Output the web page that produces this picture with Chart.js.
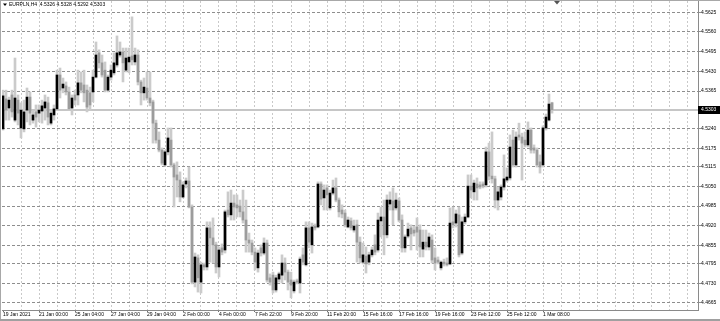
<!DOCTYPE html>
<html>
<head>
<meta charset="utf-8">
<script src="https://cdn.jsdelivr.net/npm/chart.js@4.4.1/dist/chart.umd.min.js"></script>
<style>
  html, body { margin: 0; padding: 0; background: #fff; }
  #wrap { width: 720px; height: 321px; }
</style>
</head>
<body>
<div id="wrap"><canvas id="chart" width="720" height="321"></canvas></div>
<script>
const symbol = 'EURPLN,H4'

const timeLabels = ['19 Jan 2021', '21 Jan 00:00', '25 Jan 04:00', '27 Jan 04:00', '29 Jan 04:00', '2 Feb 00:00',
  '4 Feb 00:00', '7 Feb 22:00', '9 Feb 20:00', '11 Feb 20:00', '15 Feb 16:00', '17 Feb 16:00', '19 Feb 16:00',
  '23 Feb 12:00', '25 Feb 12:00', '1 Mar 08:00']

const priceLabels = ['4.5625', '4.5560', '4.5495', '4.5430', '4.5365', '4.5305', '4.5240', '4.5175', '4.5115',
  '4.5050', '4.4985', '4.4920', '4.4855', '4.4795', '4.4730', '4.4665']

const open = [
  4.5240, 4.5339, 4.5309, 4.5352, 4.5269, 4.5335, 4.5243, 4.5240, 4.5302, 4.5345,
  4.5269, 4.5296, 4.5292, 4.5299, 4.5309, 4.5326, 4.5259, 4.5286, 4.5306, 4.5418,
  4.5375, 4.5382, 4.5362, 4.5309, 4.5352, 4.5352, 4.5392, 4.5385, 4.5368, 4.5359,
  4.5362, 4.5411, 4.5491, 4.5458, 4.5434, 4.5368, 4.5411, 4.5425, 4.5451, 4.5484,
  4.5494, 4.5434, 4.5461, 4.5481, 4.5461, 4.5484, 4.5395, 4.5359, 4.5375, 4.5342,
  4.5329, 4.5259, 4.5203, 4.5170, 4.5121, 4.5164, 4.5203, 4.5121, 4.5088, 4.5071,
  4.5015, 4.5058, 4.5068, 4.4982, 4.4734, 4.4814, 4.4734, 4.4791, 4.4784, 4.4913,
  4.4880, 4.4857, 4.4784, 4.4847, 4.4840, 4.4972, 4.4956, 4.4995, 4.4989, 4.4985,
  4.4966, 4.4939, 4.4873, 4.4863, 4.4833, 4.4781, 4.4847, 4.4830, 4.4863, 4.4748,
  4.4757, 4.4708, 4.4744, 4.4757, 4.4797, 4.4767, 4.4741, 4.4705, 4.4738, 4.4731,
  4.4824, 4.4791, 4.4913, 4.4857, 4.4919, 4.4916, 4.5058, 4.5012, 4.5045, 4.4979,
  4.5028, 4.5045, 4.5005, 4.4972, 4.4962, 4.4916, 4.4936, 4.4906, 4.4923, 4.4866,
  4.4800, 4.4820, 4.4800, 4.4824, 4.4857, 4.4840, 4.4936, 4.4949, 4.4890, 4.4992,
  4.5002, 4.4979, 4.5002, 4.4939, 4.4847, 4.4886, 4.4913, 4.4906, 4.4916, 4.4906,
  4.4843, 4.4866, 4.4850, 4.4873, 4.4814, 4.4807, 4.4781, 4.4800, 4.4797, 4.4794,
  4.4933, 4.4929, 4.4956, 4.4830, 4.4933, 4.4949, 4.5051, 4.5032, 4.5058, 4.5055,
  4.5058, 4.5055, 4.5164, 4.5084, 4.5075, 4.5005, 4.5015, 4.5048, 4.5071, 4.5078,
  4.5203, 4.5121, 4.5220, 4.5213, 4.5203, 4.5187, 4.5236, 4.5177, 4.5170, 4.5131,
  4.5121, 4.5243, 4.5269, 4.5326
]
const high = [
  4.5368, 4.5368, 4.5345, 4.5368, 4.5474, 4.5352, 4.5326, 4.5335, 4.5375, 4.5362,
  4.5302, 4.5319, 4.5319, 4.5335, 4.5352, 4.5345, 4.5302, 4.5319, 4.5434, 4.5441,
  4.5408, 4.5395, 4.5378, 4.5352, 4.5368, 4.5434, 4.5428, 4.5434, 4.5385, 4.5378,
  4.5434, 4.5527, 4.5501, 4.5484, 4.5461, 4.5418, 4.5451, 4.5491, 4.5547, 4.5527,
  4.5507, 4.5507, 4.5507, 4.5610, 4.5507, 4.5501, 4.5401, 4.5408, 4.5428, 4.5428,
  4.5335, 4.5269, 4.5230, 4.5177, 4.5170, 4.5243, 4.5243, 4.5127, 4.5131, 4.5098,
  4.5065, 4.5078, 4.5114, 4.4989, 4.4830, 4.4824, 4.4800, 4.4797, 4.4933, 4.4933,
  4.4946, 4.4866, 4.4850, 4.4860, 4.4972, 4.5032, 4.5038, 4.5022, 4.5022, 4.5005,
  4.5038, 4.5005, 4.4896, 4.4873, 4.4847, 4.4840, 4.4857, 4.4880, 4.4873, 4.4761,
  4.4767, 4.4757, 4.4767, 4.4824, 4.4814, 4.4774, 4.4767, 4.4741, 4.4744, 4.4817,
  4.4847, 4.4933, 4.4933, 4.4929, 4.4926, 4.5065, 4.5065, 4.5055, 4.5055, 4.5038,
  4.5071, 4.5078, 4.5012, 4.4989, 4.4972, 4.4949, 4.4946, 4.4939, 4.4939, 4.4883,
  4.4863, 4.4850, 4.4833, 4.4850, 4.4890, 4.4962, 4.4982, 4.5005, 4.5022, 4.5032,
  4.5045, 4.5028, 4.5012, 4.4956, 4.4890, 4.4929, 4.4923, 4.4919, 4.4946, 4.4923,
  4.4906, 4.4906, 4.4896, 4.4890, 4.4847, 4.4817, 4.4804, 4.4810, 4.4814, 4.4979,
  4.4982, 4.4972, 4.4982, 4.4949, 4.4959, 4.5088, 4.5088, 4.5071, 4.5078, 4.5065,
  4.5065, 4.5180, 4.5193, 4.5230, 4.5084, 4.5048, 4.5055, 4.5154, 4.5111, 4.5220,
  4.5236, 4.5230, 4.5259, 4.5226, 4.5230, 4.5263, 4.5243, 4.5187, 4.5177, 4.5154,
  4.5250, 4.5289, 4.5355, 4.5328
]
const low = [
  4.5236, 4.5269, 4.5269, 4.5279, 4.5263, 4.5253, 4.5210, 4.5230, 4.5263, 4.5253,
  4.5259, 4.5246, 4.5263, 4.5259, 4.5269, 4.5253, 4.5253, 4.5269, 4.5302, 4.5342,
  4.5359, 4.5352, 4.5302, 4.5286, 4.5319, 4.5319, 4.5359, 4.5329, 4.5296, 4.5302,
  4.5329, 4.5408, 4.5441, 4.5411, 4.5362, 4.5362, 4.5401, 4.5418, 4.5444, 4.5477,
  4.5395, 4.5428, 4.5425, 4.5451, 4.5451, 4.5385, 4.5319, 4.5335, 4.5335, 4.5316,
  4.5193, 4.5193, 4.5164, 4.5121, 4.5117, 4.5154, 4.5114, 4.4982, 4.5015, 4.4999,
  4.5012, 4.5045, 4.4979, 4.4728, 4.4718, 4.4701, 4.4698, 4.4774, 4.4774, 4.4800,
  4.4797, 4.4764, 4.4751, 4.4824, 4.4830, 4.4949, 4.4939, 4.4939, 4.4949, 4.4949,
  4.4929, 4.4833, 4.4833, 4.4824, 4.4774, 4.4767, 4.4820, 4.4824, 4.4734, 4.4724,
  4.4698, 4.4701, 4.4734, 4.4731, 4.4741, 4.4708, 4.4682, 4.4698, 4.4728, 4.4698,
  4.4791, 4.4787, 4.4847, 4.4830, 4.4906, 4.4913, 4.4989, 4.4972, 4.4972, 4.4972,
  4.5022, 4.4999, 4.4949, 4.4946, 4.4916, 4.4913, 4.4906, 4.4899, 4.4800, 4.4797,
  4.4794, 4.4764, 4.4791, 4.4817, 4.4824, 4.4833, 4.4883, 4.4824, 4.4880, 4.4972,
  4.4923, 4.4972, 4.4933, 4.4833, 4.4833, 4.4880, 4.4840, 4.4886, 4.4840, 4.4817,
  4.4817, 4.4840, 4.4840, 4.4797, 4.4774, 4.4794, 4.4774, 4.4787, 4.4787, 4.4791,
  4.4913, 4.4916, 4.4817, 4.4824, 4.4926, 4.4946, 4.5012, 4.5005, 4.5005, 4.5042,
  4.5045, 4.5048, 4.5071, 4.5061, 4.4979, 4.4972, 4.5005, 4.5038, 4.5065, 4.5071,
  4.5114, 4.5114, 4.5203, 4.5071, 4.5180, 4.5180, 4.5160, 4.5160, 4.5114, 4.5094,
  4.5114, 4.5236, 4.5266, 4.5292
]
const close = [
  4.5349, 4.5302, 4.5335, 4.5296, 4.5342, 4.5292, 4.5302, 4.5296, 4.5345, 4.5292,
  4.5286, 4.5279, 4.5302, 4.5316, 4.5329, 4.5279, 4.5292, 4.5306, 4.5418, 4.5368,
  4.5388, 4.5362, 4.5306, 4.5342, 4.5335, 4.5392, 4.5368, 4.5359, 4.5312, 4.5319,
  4.5411, 4.5484, 4.5458, 4.5418, 4.5368, 4.5411, 4.5434, 4.5458, 4.5491, 4.5494,
  4.5458, 4.5474, 4.5477, 4.5468, 4.5484, 4.5395, 4.5359, 4.5378, 4.5342, 4.5326,
  4.5259, 4.5203, 4.5170, 4.5127, 4.5164, 4.5210, 4.5121, 4.5081, 4.5071, 4.5015,
  4.5055, 4.5068, 4.4982, 4.4734, 4.4817, 4.4748, 4.4791, 4.4784, 4.4913, 4.4880,
  4.4857, 4.4784, 4.4840, 4.4833, 4.4966, 4.4956, 4.4995, 4.4982, 4.4979, 4.4966,
  4.4939, 4.4873, 4.4863, 4.4833, 4.4800, 4.4830, 4.4830, 4.4863, 4.4741, 4.4734,
  4.4708, 4.4748, 4.4761, 4.4797, 4.4767, 4.4734, 4.4724, 4.4734, 4.4734, 4.4810,
  4.4800, 4.4913, 4.4866, 4.4916, 4.4913, 4.5058, 4.5008, 4.5038, 4.5022, 4.5028,
  4.5045, 4.5005, 4.4966, 4.4959, 4.4923, 4.4939, 4.4913, 4.4919, 4.4866, 4.4814,
  4.4824, 4.4794, 4.4824, 4.4840, 4.4833, 4.4939, 4.4949, 4.4890, 4.5005, 4.5005,
  4.4972, 4.5005, 4.4939, 4.4847, 4.4883, 4.4909, 4.4893, 4.4896, 4.4899, 4.4850,
  4.4866, 4.4850, 4.4883, 4.4807, 4.4797, 4.4800, 4.4800, 4.4794, 4.4791, 4.4929,
  4.4923, 4.4959, 4.4824, 4.4933, 4.4949, 4.5051, 4.5038, 4.5061, 4.5045, 4.5048,
  4.5051, 4.5164, 4.5084, 4.5075, 4.5005, 4.5032, 4.5048, 4.5075, 4.5081, 4.5180,
  4.5121, 4.5213, 4.5213, 4.5193, 4.5187, 4.5236, 4.5170, 4.5170, 4.5121, 4.5114,
  4.5243, 4.5279, 4.5322, 4.5303
]

const fontFamily = "Tahoma, 'Liberation Sans', Arial, sans-serif"
const last = close.length - 1

const wicks = low.map((l, i) => ({x: i, y: [l, high[i]]}))
const bodies = open.map((o, i) => ({x: i, y: [o, close[i]]}))
const bodyColors = open.map((o, i) => close[i] >= o ? '#000000' : '#9c9c9c')

const mt4Frame = {
  id: 'mt4Frame',
  beforeDatasetsDraw(chart) {
    const {ctx, chartArea} = chart
    const y = Math.round(chart.scales.y.getPixelForValue(close[last]))
    ctx.save()
    ctx.fillStyle = '#c6c6c6'
    ctx.fillRect(chartArea.left, y - 1, chartArea.right - chartArea.left, 2)
    ctx.restore()
  },
  afterDraw(chart) {
    const {ctx, chartArea} = chart
    const y = chart.scales.y.getPixelForValue(close[last])
    ctx.save()
    // price box on the axis
    ctx.fillStyle = '#000'
    ctx.fillRect(chartArea.right, Math.round(y) - 4, 22, 8)
    ctx.fillStyle = '#fff'
    ctx.font = '5px ' + fontFamily
    ctx.textBaseline = 'middle'
    ctx.fillText(close[last].toFixed(4), chartArea.right + 3, y)

    // header
    ctx.fillStyle = '#000'
    ctx.beginPath()
    ctx.moveTo(3, 3.5)
    ctx.lineTo(7, 3.5)
    ctx.lineTo(5, 6)
    ctx.closePath()
    ctx.fill()
    const head = symbol + '  ' + open[last].toFixed(4) + ' ' + high[last].toFixed(4) + ' ' +
      low[last].toFixed(4) + ' ' + close[last].toFixed(4)
    ctx.fillText(head, 9, 5)

    // shift marker
    ctx.fillStyle = '#555'
    ctx.beginPath()
    ctx.moveTo(554, 1)
    ctx.lineTo(560, 1)
    ctx.lineTo(557, 4.5)
    ctx.closePath()
    ctx.fill()

    // window frame
    ctx.fillStyle = '#a8a8a8'
    ctx.fillRect(0, 0, 720, 1)
    ctx.fillRect(0, 0, 1, 319)
    ctx.fillStyle = '#a0a0a0'
    ctx.fillRect(0, 319, 720, 2)
    ctx.restore()
  }
}

new Chart(document.getElementById('chart'), {
  type: 'bar',
  data: {
    datasets: [{
      label: 'body',
      data: bodies,
      backgroundColor: bodyColors,
      barThickness: 2,
      minBarLength: 1,
      grouped: false,
      order: 1
    }, {
      label: 'wick',
      data: wicks,
      backgroundColor: '#cbcbcb',
      barThickness: 2,
      grouped: false,
      order: 2
    }]
  },
  options: {
    responsive: false,
    animation: false,
    events: [],
    layout: {padding: {left: 2, top: 1, right: 0, bottom: 0}},
    scales: {
      x: {
        type: 'linear',
        min: -1 / 3,
        max: 232 - 1 / 3,
        offset: false,
        afterBuildTicks: (scale) => {
          const t = []
          for (let v = 0; v <= 228; v += 6) t.push({value: v})
          scale.ticks = t
        },
        afterFit: (scale) => {
          scale.height = 11
          scale.paddingLeft = 0
          scale.paddingRight = 0
        },
        grid: {
          offset: false,
          color: (c) => c.tick && c.tick.value === 0 ? 'rgba(0,0,0,0)' : '#c9c9c9',
          lineWidth: 1,
          tickLength: 2,
          tickColor: (c) => c.tick && c.tick.value % 12 === 0 && c.tick.value <= 180 ? '#707070' : 'rgba(0,0,0,0)'
        },
        border: {display: true, color: '#8a8a8a', width: 1, dash: [2, 2]},
        ticks: {
          autoSkip: false,
          maxRotation: 0,
          minRotation: 0,
          align: 'start',
          padding: 0,
          color: '#000',
          font: {family: fontFamily, size: 5},
          callback: (v) => (v % 12 === 0 && timeLabels[v / 12]) ? timeLabels[v / 12] : ''
        }
      },
      y: {
        position: 'right',
        min: 4.4665 - 7 / 3028.1,
        max: 4.5625 + 11.3 / 3028.1,
        afterBuildTicks: (scale) => {
          scale.ticks = priceLabels.map(p => ({value: Number(p)}))
        },
        afterFit: (scale) => {
          scale.width = 22
          scale.paddingTop = 0
          scale.paddingBottom = 0
        },
        grid: {
          color: '#8e8e8e',
          lineWidth: 1,
          tickLength: 3,
          tickColor: '#8e8e8e'
        },
        border: {display: true, color: '#8a8a8a', width: 1, dash: [3, 2]},
        ticks: {
          padding: 0,
          color: '#000',
          font: {family: fontFamily, size: 5},
          callback: (v, i) => priceLabels[i]
        }
      }
    },
    plugins: {
      legend: {display: false},
      tooltip: {enabled: false}
    }
  },
  plugins: [mt4Frame]
})
</script>
</body>
</html>
